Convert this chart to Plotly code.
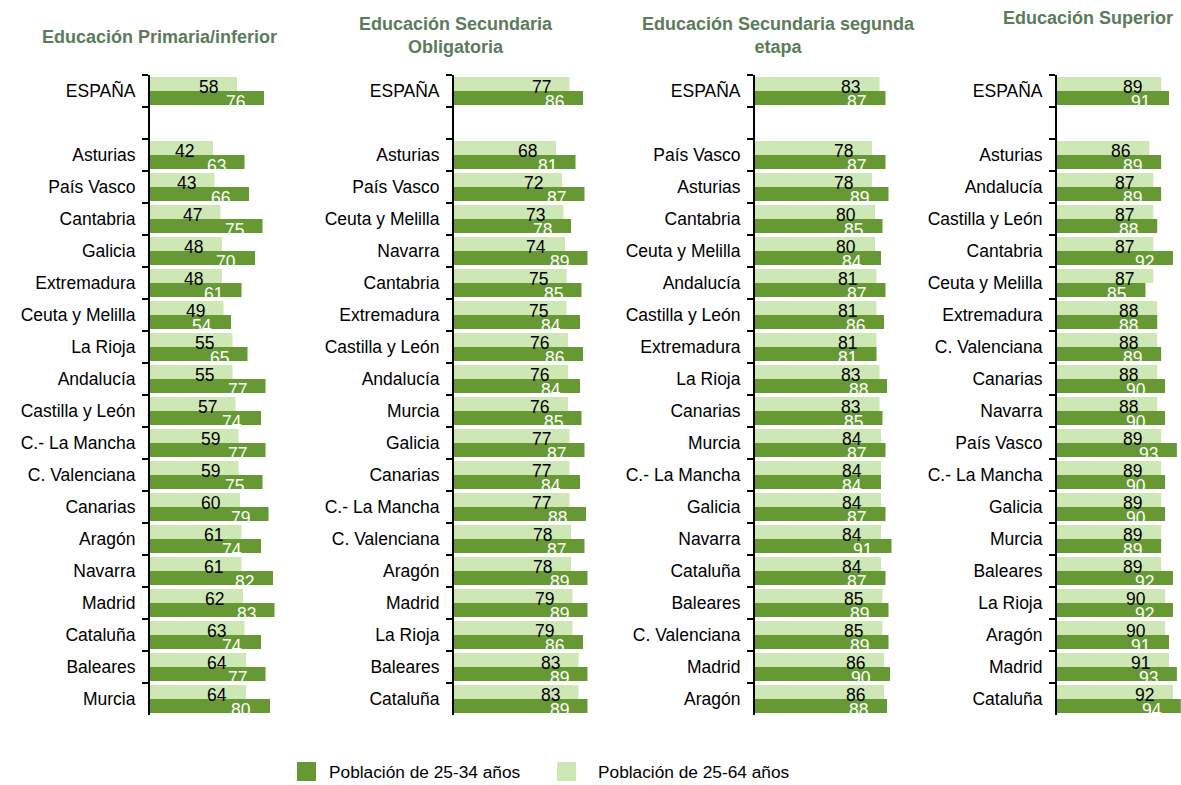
import plotly.graph_objects as go

# Datos (%) por nivel educativo: ESPAÑA + comunidades
titulos = [
    "Educación Primaria/inferior",
    "Educación Secundaria<br>Obligatoria",
    "Educación Secundaria segunda<br>etapa",
    "Educación Superior",
]

espana_25_64 = [58, 77, 83, 89]
espana_25_34 = [76, 86, 87, 91]

regiones_primaria = ["Asturias", "País Vasco", "Cantabria", "Galicia", "Extremadura",
                     "Ceuta y Melilla", "La Rioja", "Andalucía", "Castilla y León",
                     "C.- La Mancha", "C. Valenciana", "Canarias", "Aragón", "Navarra",
                     "Madrid", "Cataluña", "Baleares", "Murcia"]
primaria_25_64 = [42, 43, 47, 48, 48, 49, 55, 55, 57, 59, 59, 60, 61, 61, 62, 63, 64, 64]
primaria_25_34 = [63, 66, 75, 70, 61, 54, 65, 77, 74, 77, 75, 79, 74, 82, 83, 74, 77, 80]

regiones_obligatoria = ["Asturias", "País Vasco", "Ceuta y Melilla", "Navarra", "Cantabria",
                        "Extremadura", "Castilla y León", "Andalucía", "Murcia", "Galicia",
                        "Canarias", "C.- La Mancha", "C. Valenciana", "Aragón", "Madrid",
                        "La Rioja", "Baleares", "Cataluña"]
obligatoria_25_64 = [68, 72, 73, 74, 75, 75, 76, 76, 76, 77, 77, 77, 78, 78, 79, 79, 83, 83]
obligatoria_25_34 = [81, 87, 78, 89, 85, 84, 86, 84, 85, 87, 84, 88, 87, 89, 89, 86, 89, 89]

regiones_segunda = ["País Vasco", "Asturias", "Cantabria", "Ceuta y Melilla", "Andalucía",
                    "Castilla y León", "Extremadura", "La Rioja", "Canarias", "Murcia",
                    "C.- La Mancha", "Galicia", "Navarra", "Cataluña", "Baleares",
                    "C. Valenciana", "Madrid", "Aragón"]
segunda_25_64 = [78, 78, 80, 80, 81, 81, 81, 83, 83, 84, 84, 84, 84, 84, 85, 85, 86, 86]
segunda_25_34 = [87, 89, 85, 84, 87, 86, 81, 88, 85, 87, 84, 87, 91, 87, 89, 89, 90, 88]

regiones_superior = ["Asturias", "Andalucía", "Castilla y León", "Cantabria", "Ceuta y Melilla",
                     "Extremadura", "C. Valenciana", "Canarias", "Navarra", "País Vasco",
                     "C.- La Mancha", "Galicia", "Murcia", "Baleares", "La Rioja", "Aragón",
                     "Madrid", "Cataluña"]
superior_25_64 = [86, 87, 87, 87, 87, 88, 88, 88, 88, 89, 89, 89, 89, 89, 90, 90, 91, 92]
superior_25_34 = [89, 89, 88, 92, 85, 88, 89, 90, 90, 93, 90, 90, 89, 92, 92, 91, 93, 94]

series_leyenda = ["Población de 25-34 años", "Población de 25-64 años"]

paneles = [
    (regiones_primaria, primaria_25_64, primaria_25_34),
    (regiones_obligatoria, obligatoria_25_64, obligatoria_25_34),
    (regiones_segunda, segunda_25_64, segunda_25_34),
    (regiones_superior, superior_25_64, superior_25_34),
]

OSCURO = "#669933"
CLARO = "#cde8b4"
TITULO = "#5b7b5b"
FUENTE = "Liberation Sans, Arial, sans-serif"

W, H = 1181, 785
dominios_x = [(150, 300), (454, 604), (755, 905), (1057, 1181)]
rangos_x = [[0, 100], [0, 100], [0, 100], [62.5, 94.05]]
dom_y = [(H - 715) / H, (H - 75) / H]
pos_titulos = [(159, 37), (456, 36), (778, 36), (1088, 18)]

fig = go.Figure()
anotaciones = []

for i, (regiones, v64, v34) in enumerate(paneles):
    n = "" if i == 0 else str(i + 1)
    cats = ["ESPAÑA", " "] + regiones
    x64 = [espana_25_64[i], None] + v64
    x34 = [espana_25_34[i], None] + v34
    fig.add_trace(go.Bar(y=cats, x=x64, orientation="h", marker_color=CLARO,
                         marker_line_width=0, xaxis="x" + n, yaxis="y" + n,
                         offsetgroup="a", showlegend=False))
    fig.add_trace(go.Bar(y=cats, x=x34, orientation="h", marker_color=OSCURO,
                         marker_line_width=0, xaxis="x" + n, yaxis="y" + n,
                         offsetgroup="b", showlegend=False))
    for c, a, b in zip(cats, x64, x34):
        if a is None:
            continue
        anotaciones.append(dict(x=a, y=c, xref="x" + n, yref="y" + n, text=str(a),
                                showarrow=False, xanchor="right", xshift=-17, yshift=4,
                                font=dict(size=17.5, color="black", family=FUENTE)))
        anotaciones.append(dict(x=b, y=c, xref="x" + n, yref="y" + n, text=str(b),
                                showarrow=False, xanchor="right", xshift=-17, yshift=-11,
                                font=dict(size=17.5, color="white", family=FUENTE)))

    x0, x1 = dominios_x[i]
    fig.update_layout(**{
        "xaxis" + n: dict(domain=[x0 / W, x1 / W], range=rangos_x[i], visible=False,
                          anchor="y" + n),
        "yaxis" + n: dict(domain=dom_y, autorange=False, range=[19.5, -0.5],
                          type="category", anchor="x" + n,
                          showline=True, linecolor="black", linewidth=2,
                          ticks="outside", tickson="boundaries", ticklen=6,
                          tickwidth=2, tickcolor="black", showgrid=False,
                          ticklabelstandoff=9,
                          tickfont=dict(size=17.5, color="black", family=FUENTE)),
    })

    tx, ty = pos_titulos[i]
    anotaciones.append(dict(x=tx / W, y=1 - ty / H, xref="paper", yref="paper",
                            text="<b>" + titulos[i] + "</b>", showarrow=False,
                            xanchor="center", yanchor="middle",
                            font=dict(size=18, color=TITULO, family=FUENTE)))

# Leyenda manual
formas = []
for (lx, tx), color, nombre in zip([(297, 327), (557, 596)], [OSCURO, CLARO], series_leyenda):
    formas.append(dict(type="rect", xref="paper", yref="paper",
                       x0=lx / W, x1=(lx + 19) / W, y0=(H - 781) / H, y1=(H - 762) / H,
                       fillcolor=color, line_width=0))
    anotaciones.append(dict(x=tx / W, y=1 - 772 / H, xref="paper", yref="paper",
                            text=nombre, showarrow=False, xanchor="left", yanchor="middle",
                            font=dict(size=17.3, color="black", family=FUENTE)))

fig.update_layout(
    width=W, height=H,
    margin=dict(l=0, r=0, t=0, b=0),
    paper_bgcolor="white", plot_bgcolor="white",
    barmode="group", bargap=0.13, bargroupgap=0,
    annotations=anotaciones, shapes=formas,
    showlegend=False,
)

# sin margen del body para que la figura ocupe la ventana completa
fig.write_html("out.html", config={"displayModeBar": False},
               post_script="document.body.style.margin='0';document.body.style.overflow='hidden';")
